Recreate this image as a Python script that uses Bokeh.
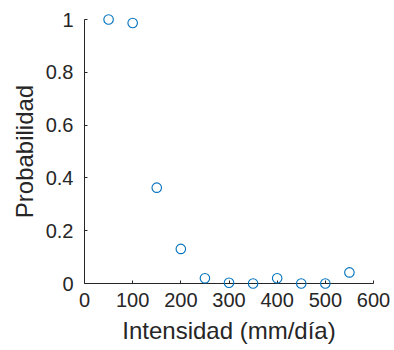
from bokeh.plotting import figure
from bokeh.models import Range1d, FixedTicker
from bokeh.embed import file_html
from bokeh.resources import INLINE

intensidad = [50, 100, 150, 200, 250, 300, 350, 400, 450, 500, 550]
probabilidad = [1.0, 0.987, 0.363, 0.131, 0.02, 0.003, 0.0, 0.02, 0.0, 0.0, 0.042]
x_ticks = [0, 100, 200, 300, 400, 500, 600]
y_ticks = [0, 0.2, 0.4, 0.6, 0.8, 1]

FONT = "Liberation Sans"
AX = "#262626"

p = figure(width=390, height=346, output_backend="svg", toolbar_location=None,
           x_range=Range1d(0, 600), y_range=Range1d(0, 1),
           min_border_left=84, min_border_right=17, min_border_top=19, min_border_bottom=63)
p.outline_line_color = None
p.grid.visible = False

p.scatter(intensidad, probabilidad, marker="circle", size=9.5, fill_color=None,
          line_color="#0072BD", line_width=1.1, level="overlay")

for ax in (p.xaxis[0], p.yaxis[0]):
    ax.axis_line_color = AX
    ax.major_tick_line_color = AX
    ax.major_tick_in = 3
    ax.major_tick_out = 0
    ax.minor_tick_line_color = None
    ax.major_label_text_font = FONT
    ax.major_label_text_font_size = "20px"
    ax.major_label_text_color = AX
    ax.axis_label_text_font = FONT
    ax.axis_label_text_font_size = "24px"
    ax.axis_label_text_font_style = "normal"
    ax.axis_label_text_color = AX

p.xaxis.ticker = FixedTicker(ticks=x_ticks)
p.yaxis.ticker = FixedTicker(ticks=y_ticks)
p.yaxis.major_label_overrides = {0: "0", 0.2: "0.2", 0.4: "0.4", 0.6: "0.6", 0.8: "0.8", 1: "1"}
p.xaxis.axis_label = "Intensidad (mm/día)"
p.yaxis.axis_label = "Probabilidad"
p.xaxis.major_label_standoff = 9
p.yaxis.major_label_standoff = 11
p.xaxis.axis_label_standoff = 7
p.yaxis.axis_label_standoff = 5

open("out.html", "w").write(file_html(p, INLINE))
